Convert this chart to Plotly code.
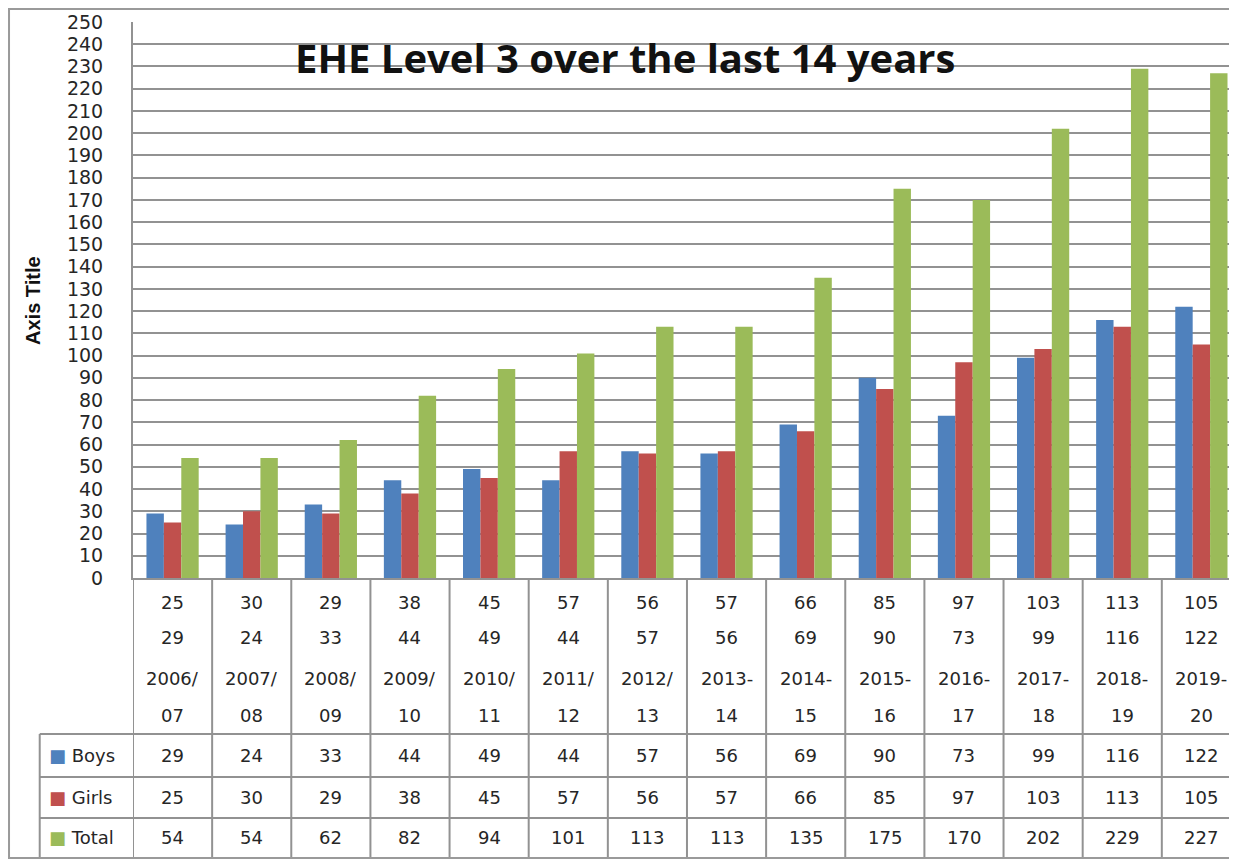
import plotly.graph_objects as go

# data
years = ["2006/07", "2007/08", "2008/09", "2009/10", "2010/11", "2011/12", "2012/13",
         "2013-14", "2014-15", "2015-16", "2016-17", "2017-18", "2018-19", "2019-20"]
boys = [29, 24, 33, 44, 49, 44, 57, 56, 69, 90, 73, 99, 116, 122]
girls = [25, 30, 29, 38, 45, 57, 56, 57, 66, 85, 97, 103, 113, 105]
total = [54, 54, 62, 82, 94, 101, 113, 113, 135, 175, 170, 202, 229, 227]
y_ticks = list(range(0, 251, 10))

BLUE = "#4F81BD"
RED = "#C0504D"
GREEN = "#9BBB59"
GRID = "#929292"
TEXT = "#262626"
FONT = "DejaVu Sans"
FS = 18

x = list(range(len(years)))

fig = go.Figure()
fig.add_trace(go.Bar(x=x, y=boys, name="Boys", marker=dict(color=BLUE, line=dict(width=0))))
fig.add_trace(go.Bar(x=x, y=girls, name="Girls", marker=dict(color=RED, line=dict(width=0))))
fig.add_trace(go.Bar(x=x, y=total, name="Total", marker=dict(color=GREEN, line=dict(width=0))))

# table rows (paper y, below the plot area)
label_rows = [-0.0432, -0.1079, -0.1799, -0.2482]
series_rows = [(-0.3201, "Boys", BLUE, boys), (-0.3939, "Girls", RED, girls), (-0.4676, "Total", GREEN, total)]
row_lines = [-0.2806, -0.3579, -0.4317, -0.5036]
bottom = -0.5036

annotations = []
shapes = []

for i, yr in enumerate(years):
    lines = [str(girls[i]), str(boys[i]), yr[:5], yr[5:]]
    for yy, t in zip(label_rows, lines):
        annotations.append(dict(x=i, y=yy, xref="x", yref="paper", text=t, showarrow=False,
                                font=dict(family=FONT, size=FS, color=TEXT), xanchor="center", yanchor="middle"))
    for yy, _, _, vals in series_rows:
        annotations.append(dict(x=i, y=yy, xref="x", yref="paper", text=str(vals[i]), showarrow=False,
                                font=dict(family=FONT, size=FS, color=TEXT), xanchor="center", yanchor="middle"))

for yy, name, col, _ in series_rows:
    annotations.append(dict(x=-0.0779, y=yy, xref="paper", yref="paper", xanchor="left", yanchor="middle",
                            text=f"<span style='color:{col}'>■</span> {name}", showarrow=False,
                            font=dict(family=FONT, size=FS, color=TEXT)))

# vertical table lines at category boundaries
for i in range(len(years) + 1):
    shapes.append(dict(type="line", xref="x", yref="paper", x0=i - 0.5, x1=i - 0.5,
                       y0=0, y1=bottom, line=dict(color=GRID, width=2)))
# horizontal table lines
for yy in row_lines:
    shapes.append(dict(type="line", xref="paper", yref="paper", x0=-0.0845, x1=1.0,
                       y0=yy, y1=yy, line=dict(color=GRID, width=2)))
# legend column left edge
shapes.append(dict(type="line", xref="paper", yref="paper", x0=-0.0845, x1=-0.0845,
                   y0=row_lines[0], y1=bottom, line=dict(color=GRID, width=2)))
# chart outer border (right side is cropped in the reference)
shapes.append(dict(type="rect", xref="paper", yref="paper", x0=-0.1123, x1=1.05,
                   y0=-0.5036, y1=1.0234, line=dict(color="#9a9a9a", width=2)))

# title and axis title
annotations.append(dict(x=0.4457, y=0.937, xref="paper", yref="paper", text="<b>EHE Level 3 over the last 14 years</b>",
                        showarrow=False, font=dict(family="Open Sans", size=40, color="#111111"),
                        xanchor="center", yanchor="middle"))
annotations.append(dict(x=-0.0906, y=0.5, xref="paper", yref="paper", text="<b>Axis Title</b>", textangle=-90,
                        showarrow=False, font=dict(family="Liberation Sans", size=20, color="#111111"),
                        xanchor="center", yanchor="middle"))

# page body has an 8px margin, so the figure is 8px smaller on each axis
fig.update_layout(
    width=1229, height=851,
    margin=dict(l=125, r=0, t=14, b=281),
    paper_bgcolor="white", plot_bgcolor="white",
    barmode="group", bargap=0.34, bargroupgap=0,
    showlegend=False,
    font=dict(family=FONT, size=FS, color=TEXT),
    xaxis=dict(range=[-0.5, 13.45], showticklabels=False, showgrid=False, zeroline=False,
               showline=True, linecolor=GRID, linewidth=2, ticks=""),
    yaxis=dict(range=[0, 250], tickvals=y_ticks, showgrid=True, gridcolor=GRID, gridwidth=2,
               zeroline=False, showline=True, linecolor=GRID, linewidth=2, ticks="",
               ticklabelstandoff=24, tickfont=dict(family=FONT, size=19, color=TEXT)),
    annotations=annotations,
    shapes=shapes,
)

fig.write_html("out.html")
